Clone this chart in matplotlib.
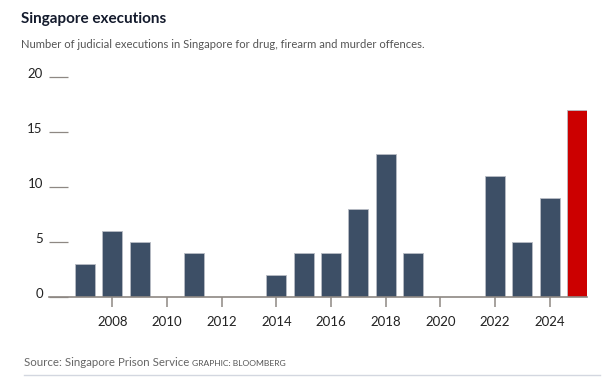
import matplotlib
matplotlib.use("Agg")
import matplotlib.pyplot as plt
from matplotlib.transforms import ScaledTranslation
from matplotlib.lines import Line2D

years = list(range(2007, 2026))
executions = [3, 6, 5, 0, 4, 0, 0, 2, 4, 4, 8, 13, 4, 0, 0, 11, 5, 9, 17]
highlight_year = 2025
xticks = [2008, 2010, 2012, 2014, 2016, 2018, 2020, 2022, 2024]
yticks = [0, 5, 10, 15, 20]

title = "Singapore executions"
subtitle = "Number of judicial executions in Singapore for drug, firearm and murder offences."
source = "Source: Singapore Prison Service"
credit = "GRAPHIC: BLOOMBERG"

plt.rcParams["font.family"] = ["Lato", "DejaVu Sans"]

W, H = 615, 390
fig = plt.figure(figsize=(W / 100, H / 100), dpi=100)
fig.patch.set_facecolor("white")

ax = fig.add_axes([49 / W, (H - 297) / H, (587 - 49) / W, 220 / H])
navy = "#3d4f66"
red = "#cc0000"
colors = [red if y == highlight_year else navy for y in years]
ax.bar(years, executions, width=0.73, color=colors, edgecolor="#b8bcc4", linewidth=0.6, zorder=2)

ax.set_xlim(2005.68, 2025.37)
ax.set_ylim(0, 20)
for s in ["top", "right", "left"]:
    ax.spines[s].set_visible(False)
ax.spines["bottom"].set_color("#8e8883")
ax.spines["bottom"].set_linewidth(1.2)
ax.spines["bottom"].set_zorder(3)

ax.set_xticks(xticks)
ax.set_xticklabels([str(t) for t in xticks])
ax.tick_params(axis="x", direction="out", length=7.5, width=1.1, color="#8e8883",
               labelsize=9.5, labelcolor="#222222", pad=6)

ax.set_yticks(yticks)
ax.set_yticklabels([str(t) for t in yticks])
ax.tick_params(axis="y", direction="in", length=14, width=0.9, color="#8e8883",
               labelsize=9.5, labelcolor="#222222", pad=4.5)
for lab in ax.get_yticklabels():
    lab.set_transform(lab.get_transform() + ScaledTranslation(0, 3 / 72, fig.dpi_scale_trans))

fig.text(21 / W, 1 - 19 / H, title, fontsize=11, fontweight="bold", color="#141b2d",
         ha="left", va="center")
fig.text(21 / W, 1 - 45 / H, subtitle, fontsize=8.1, color="#555555", ha="left", va="center")

t1 = fig.text(24 / W, 1 - 363 / H, source, fontsize=8.3, color="#666666", ha="left", va="center")
fig.canvas.draw()
bb = t1.get_window_extent()
fig.text(bb.x1 / W + 3 / W, 1 - 363 / H, credit, fontsize=6.1, color="#555555", ha="left", va="center")

fig.add_artist(Line2D([24 / W, 600 / W], [1 - 375 / H, 1 - 375 / H], transform=fig.transFigure,
                      color="#d3d7e0", linewidth=1))

fig.savefig("out.png", dpi=100, facecolor="white")
